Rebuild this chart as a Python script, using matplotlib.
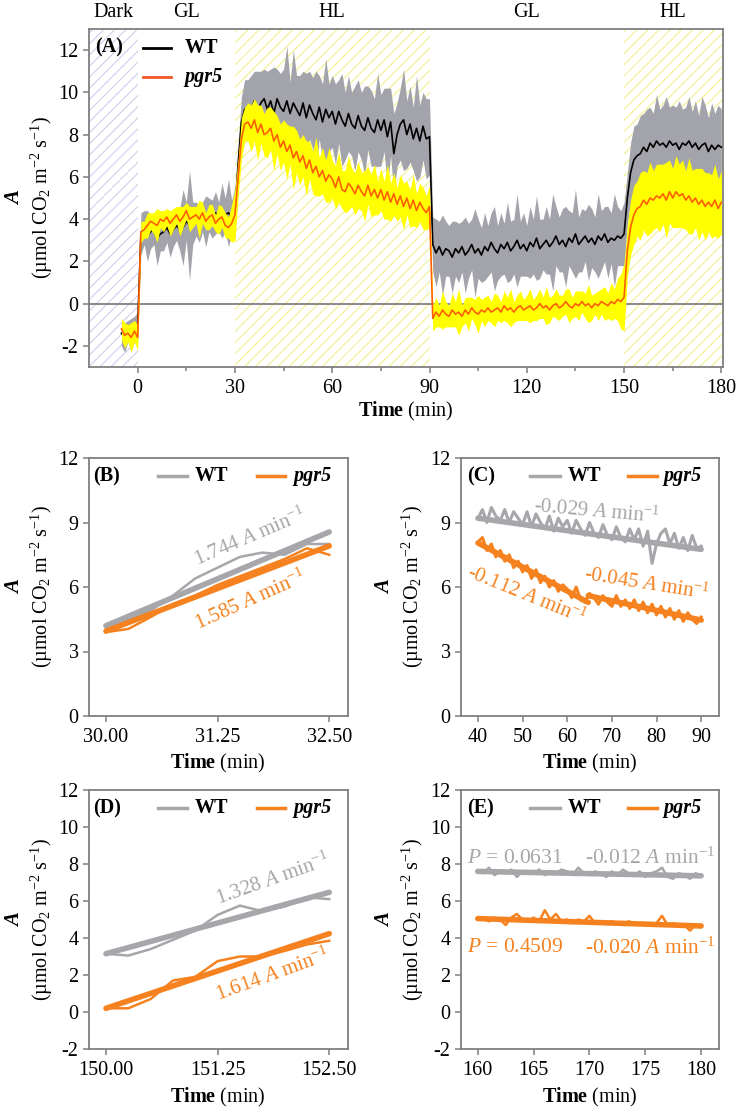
import numpy as np
import matplotlib
matplotlib.use('Agg')
import matplotlib.pyplot as plt
import matplotlib.transforms as mtransforms

plt.rcParams['font.family'] = 'Liberation Serif'
plt.rcParams['font.size'] = 14.5
plt.rcParams['axes.unicode_minus'] = False
plt.rcParams['mathtext.fontset'] = 'custom'
plt.rcParams['mathtext.rm'] = 'Liberation Serif'
plt.rcParams['mathtext.it'] = 'Liberation Serif:italic'
plt.rcParams['mathtext.bf'] = 'Liberation Serif:bold'
plt.rcParams['hatch.linewidth'] = 0.8

# ---------------- data ----------------
# panel A : mean and sd per minute, t = -5 .. 180
time_a = np.arange(-5, 181)
wt_mean = [-1.4, -1.6, -1.3, -1.5, -1.2, -1.1, 3.3, 3.6, 3.2, 3.4,
           3.5, 3.1, 3.3, 3.4, 3.6, 3.3, 3.5, 3.7, 3.5, 3.6,
           3.9, 3.7, 3.8, 4.0, 3.8, 4.1, 3.9, 4.2, 4.0, 4.3,
           4.1, 4.4, 4.2, 4.3, 4.1, 4.3, 6.6, 8.6, 9.2, 9.3,
           9.2, 9.6, 9.1, 9.5, 9.7, 9.2, 9.6, 9.0, 9.7, 9.3,
           9.1, 9.6, 9.0, 9.5, 9.2, 8.9, 9.5, 8.8, 9.4, 9.0,
           8.7, 9.3, 8.6, 9.2, 8.8, 9.1, 8.5, 9.1, 8.7, 8.4,
           9.0, 8.5, 8.3, 8.9, 8.4, 8.2, 8.8, 8.3, 8.1, 8.7,
           8.2, 8.7, 7.9, 8.6, 7.1, 8.0, 8.5, 8.7, 8.0, 8.5,
           7.8, 8.3, 7.7, 8.4, 7.8, 7.9, 2.8, 2.4, 2.7, 2.3,
           2.6, 2.5, 2.2, 2.6, 2.4, 2.7, 2.3, 2.5, 2.8, 2.4,
           2.6, 2.3, 2.7, 2.5, 2.9, 2.6, 2.4, 2.8, 2.6, 2.9,
           2.5, 2.7, 3.0, 2.6, 2.8, 2.5, 2.9, 2.7, 3.1, 2.6,
           2.8, 3.0, 2.7, 2.9, 3.2, 2.8, 3.0, 2.7, 3.1, 2.9,
           3.3, 2.8, 3.0, 3.2, 2.9, 3.1, 2.8, 3.2, 3.0, 3.3,
           2.9, 3.1, 3.0, 3.2, 3.1, 3.3, 5.0, 6.2, 6.8, 7.0,
           7.1, 7.4, 7.2, 7.6, 7.4, 7.7, 7.5, 7.6, 7.4, 7.7,
           7.5, 7.6, 7.3, 7.6, 7.5, 7.7, 7.4, 7.6, 7.3, 7.5,
           7.6, 7.2, 7.5, 7.3, 7.5, 7.4]
pgr5_mean = [-1.2, -1.5, -1.4, -1.6, -1.3, -1.6, 3.4, 3.5, 3.7, 3.9,
             3.8, 3.7, 4.0, 3.9, 4.1, 3.8, 4.0, 4.2, 3.9, 4.1,
             4.4, 4.0, 4.1, 4.2, 4.0, 4.3, 3.9, 4.1, 4.2, 3.8,
             4.0, 4.1, 3.7, 3.6, 3.8, 4.2, 6.0, 7.8, 8.5, 8.6,
             8.3, 8.7, 8.1, 8.5, 8.0, 8.1, 8.3, 7.7, 8.0, 7.4,
             7.7, 7.2, 7.5, 6.9, 7.2, 6.7, 7.0, 6.4, 6.8, 6.2,
             6.5, 6.0, 6.3, 5.8, 6.1, 5.9, 5.5, 6.0, 5.4, 5.3,
             5.7, 5.5, 5.2, 5.6, 5.3, 5.1, 5.6, 5.1, 5.4, 5.0,
             5.4, 4.9, 5.3, 4.8, 5.2, 4.7, 5.1, 4.6, 5.0, 4.5,
             4.9, 4.4, 4.8, 4.5, 4.3, 4.6, -0.7, -0.4, -0.6, -0.3,
             -0.5, -0.6, -0.3, -0.5, -0.4, -0.6, -0.3, -0.5, -0.2, -0.4,
             -0.5, -0.3, -0.4, -0.2, -0.4, -0.3, -0.2, -0.4, -0.1, -0.3,
             -0.2, -0.4, -0.2, -0.1, -0.3, -0.2, -0.1, -0.3, -0.2, 0.0,
             -0.2, -0.1, -0.3, -0.1, 0.0, -0.2, -0.1, 0.1, -0.1, -0.2,
             0.0, -0.1, 0.1, -0.1, 0.0, -0.2, 0.0, -0.1, 0.1, 0.0,
             -0.1, 0.1, 0.0, 0.2, 0.1, 0.3, 2.5, 3.6, 4.2, 4.5,
             4.6, 4.9, 4.7, 5.0, 4.9, 5.1, 5.0, 5.2, 4.9, 5.3,
             5.0, 5.3, 5.1, 5.2, 4.9, 5.1, 4.8, 5.0, 4.7, 4.9,
             4.6, 4.8, 4.6, 4.9, 4.5, 4.8]
wt_sd = [0.6, 0.7, 0.5, 0.8, 0.6, 0.7,
         1.0, 0.8, 1.2, 0.8, 0.7, 1.3, 0.8, 0.9, 0.7, 1.1,
         0.8, 0.7, 1.0, 1.8, 0.9, 2.6, 1.0, 0.8, 0.9, 0.7,
         1.2, 0.8, 0.9, 1.0, 0.7, 1.3, 0.8, 1.6, 0.8, 1.2,
         1.0, 1.2, 1.4, 1.3, 1.6, 1.4, 1.9, 1.5, 1.4, 1.8,
         1.5, 2.2, 1.4, 1.6, 2.0, 2.6, 1.5, 2.5, 1.6, 1.9,
         1.5, 2.1, 1.6, 1.7, 2.3, 1.5, 1.8, 2.4, 1.6, 1.7,
         1.9, 1.5, 2.2, 1.6, 1.8, 1.5, 2.0, 1.7, 1.6, 2.1,
         1.5, 1.8, 1.6, 2.2, 1.7, 1.5, 2.3, 1.6, 1.9, 1.5,
         1.7, 2.4, 1.6, 1.8, 1.5, 2.5, 1.7, 1.6, 1.9, 1.8,
         1.3, 1.6, 1.2, 1.9, 1.3, 1.2, 1.7, 1.3, 1.4, 1.2,
         1.8, 1.3, 1.2, 2.1, 1.4, 1.3, 1.6, 1.2, 1.4, 2.0,
         1.3, 1.5, 1.2, 1.9, 1.4, 1.3, 2.2, 1.3, 1.5, 1.2,
         1.7, 1.3, 2.0, 1.4, 1.2, 1.6, 1.3, 2.3, 1.4, 1.3,
         1.5, 1.9, 1.3, 1.4, 2.1, 1.3, 1.5, 1.2, 1.8, 1.4,
         1.3, 2.0, 1.4, 1.3, 1.7, 1.2, 2.2, 1.4, 1.3, 1.5,
         1.2, 1.4, 1.6, 1.5, 1.8, 1.6, 2.0, 1.7, 1.6, 2.2,
         1.7, 1.8, 2.4, 1.6, 1.9, 1.7, 2.3, 1.6, 1.8, 2.1,
         1.7, 2.0, 1.6, 2.3, 1.8, 1.6, 2.0, 1.7, 1.9, 1.8]
pgr5_sd = [0.5, 0.6, 0.4, 0.7, 0.5, 0.6,
           0.5, 0.4, 0.6, 0.4, 0.5, 0.8, 0.4, 0.5, 0.4, 0.6,
           0.5, 0.4, 0.7, 0.5, 0.4, 0.6, 0.5, 0.4, 0.9, 0.5,
           0.4, 0.6, 0.5, 0.4, 0.7, 0.5, 0.6, 0.5, 0.9, 1.2,
           0.9, 1.0, 0.8, 0.9, 1.1, 1.0, 1.3, 0.9, 1.0, 1.2,
           1.0, 1.4, 0.9, 1.1, 1.0, 1.3, 0.9, 1.5, 1.0, 1.1,
           1.0, 1.3, 0.9, 1.0, 1.4, 0.9, 1.1, 1.0, 1.3, 0.9,
           1.0, 1.2, 0.9, 1.0, 1.3, 0.9, 1.0, 1.1, 0.9, 1.2,
           0.9, 1.0, 1.2, 0.8, 1.0, 0.9, 1.3, 0.9, 1.0, 0.8,
           1.0, 1.1, 0.8, 0.9, 1.2, 0.8, 0.9, 1.0, 0.8, 1.0,
           0.6, 0.7, 0.5, 0.9, 0.6, 0.5, 0.8, 0.6, 1.1, 0.5,
           0.6, 0.8, 0.5, 0.6, 0.9, 0.5, 0.7, 0.6, 0.5, 0.8,
           0.6, 0.5, 0.7, 0.6, 0.9, 0.5, 0.6, 0.7, 0.5, 0.6,
           0.8, 0.5, 0.6, 0.7, 0.5, 0.9, 0.6, 0.5, 0.7, 0.6,
           0.5, 0.6, 0.8, 0.5, 0.6, 0.7, 0.5, 0.6, 0.9, 0.6,
           0.5, 0.7, 0.6, 0.8, 0.6, 0.9, 0.7, 1.0, 1.3, 1.6,
           1.2, 1.3, 1.4, 1.3, 1.6, 1.4, 1.5, 1.7, 1.4, 1.5,
           1.6, 1.4, 1.8, 1.5, 1.4, 1.7, 1.5, 1.6, 1.4, 1.8,
           1.5, 1.4, 1.7, 1.5, 1.6, 1.4, 1.5, 1.7, 1.4, 1.5]

# panels B and D: first 2.5 min after switching to HL (0.25 min steps)
time_b = [30.0, 30.25, 30.5, 30.75, 31.0, 31.25, 31.5, 31.75, 32.0, 32.25, 32.5]
wt_b = [4.1, 4.5, 4.9, 5.6, 6.4, 6.9, 7.4, 7.6, 7.5, 8.0, 8.0]
pgr5_b = [3.9, 4.05, 4.6, 5.2, 5.6, 6.1, 6.5, 6.9, 7.3, 7.8, 7.5]
time_d = [150.0, 150.25, 150.5, 150.75, 151.0, 151.25, 151.5, 151.75, 152.0, 152.25, 152.5]
wt_d = [3.15, 3.05, 3.4, 3.9, 4.4, 5.25, 5.75, 5.45, 5.7, 6.2, 6.1]
pgr5_d = [0.2, 0.2, 0.7, 1.7, 1.9, 2.75, 3.0, 3.0, 3.3, 3.65, 3.85]

# panel E: 160-180 min (0.5 min steps)
time_e = np.arange(160, 180.5, 0.5)
wt_e = [7.6, 7.5, 7.8, 7.4, 7.6, 7.5, 7.7, 7.3, 7.6, 7.5,
        7.5, 7.7, 7.4, 7.6, 7.5, 7.7, 7.6, 7.4, 7.8, 7.5,
        7.4, 7.6, 7.5, 7.3, 7.6, 7.4, 7.7, 7.5, 7.4, 7.6,
        7.3, 7.5, 7.6, 7.8, 7.3, 7.2, 7.5, 7.4, 7.2, 7.5, 7.4]
pgr5_e = [5.0, 5.1, 4.9, 5.1, 5.0, 4.7, 5.1, 5.3, 5.0, 4.9,
          5.1, 4.9, 5.5, 5.0, 5.3, 4.9, 5.0, 4.8, 5.0, 4.9,
          5.2, 4.8, 4.9, 4.8, 4.9, 4.8, 4.7, 4.9, 4.8, 4.7,
          4.8, 4.7, 4.8, 5.2, 4.7, 4.8, 4.6, 4.7, 4.4, 4.7, 4.6]

# linear fits: (start time, end time, start value, slope)
fit_b = {'WT': (30.0, 32.5, 4.2, 1.744), 'pgr5': (30.0, 32.5, 3.95, 1.585)}
fit_c = {'WT': [(40, 90, 9.2, -0.029)], 'pgr5': [(40, 64.7, 8.05, -0.112), (64.7, 90, 5.6, -0.045)]}
fit_d = {'WT': (150.0, 152.5, 3.15, 1.328), 'pgr5': (150.0, 152.5, 0.2, 1.614)}
fit_e = {'WT': (160, 180, 7.6, -0.012), 'pgr5': (160, 180, 5.05, -0.020)}

phases = [('Dark', -15, 0), ('GL', 0, 30), ('HL', 30, 90), ('GL', 90, 150), ('HL', 150, 180)]

# ---------------- style ----------------
GRAY = '#a6a6ab'
ORANGE = '#f5821f'
BAND_GRAY = '#a3a3ab'
SPINE = '#7f7f7f'
FS = 14.5

fig = plt.figure(figsize=(7.39, 11.09), dpi=100)


def px_axes(l, t, r, b):
    return fig.add_axes([l / 739, 1 - b / 1109, (r - l) / 739, (b - t) / 1109])


def style(ax):
    for s in ax.spines.values():
        s.set_color(SPINE)
        s.set_linewidth(1.3)
    ax.tick_params(which='major', direction='out', length=4.5, width=1.1, color=SPINE, pad=3, labelsize=FS)
    ax.tick_params(which='minor', direction='out', length=3, width=1.1, color=SPINE)
    ax.tick_params(axis='x', which='major', pad=4)


def ylab(xa, xb, yc):
    fig.text(xa / 739, 1 - yc / 1109, 'A', rotation=90, fontweight='bold', fontstyle='italic',
             ha='center', va='center', fontsize=15)
    fig.text(xb / 739, 1 - yc / 1109, r'(µmol CO$_2$ m$^{-2}$ s$^{-1}$)', rotation=90,
             ha='center', va='center', fontsize=FS)


def xlab(xc, yc):
    fig.text(xc / 739, 1 - yc / 1109, r'$\mathbf{Time}$ (min)', ha='center', va='center', fontsize=FS)


def small_legend(ax, tag, xs):
    ax.text(xs[0], 0.93, tag, transform=ax.transAxes, fontweight='bold', ha='left', va='center')
    ax.plot([xs[1], xs[2]], [0.93, 0.93], color=GRAY, lw=2.5, transform=ax.transAxes)
    ax.text(xs[3], 0.93, 'WT', transform=ax.transAxes, fontweight='bold', ha='left', va='center')
    ax.plot([xs[4], xs[5]], [0.93, 0.93], color=ORANGE, lw=2.5, transform=ax.transAxes)
    ax.text(xs[6], 0.93, 'pgr5', transform=ax.transAxes, fontweight='bold', fontstyle='italic',
            ha='left', va='center')


def draw_fit(ax, seg, color):
    t0, t1, y0, k = seg
    ax.plot([t0, t1], [y0, y0 + k * (t1 - t0)], color=color, lw=4, solid_capstyle='round', zorder=3)


# ---------------- panel A ----------------
axA = px_axes(89, 29, 723, 367)
style(axA)
wm = np.array(wt_mean)
pm = np.array(pgr5_mean)
ws = np.array(wt_sd)
ps = np.array(pgr5_sd)

axA.axvspan(-15, 0, facecolor='none', edgecolor='#cfcfee', hatch='///', lw=0, zorder=0)
axA.axvspan(30, 90, facecolor='none', edgecolor='#f3ef8f', hatch='///', lw=0, zorder=0)
axA.axvspan(150, 181, facecolor='none', edgecolor='#f3ef8f', hatch='///', lw=0, zorder=0)
axA.axhline(0, color='#7f7f7f', lw=1.3, zorder=1)

axA.fill_between(time_a, wm - ws, wm + ws, color=BAND_GRAY, lw=0, zorder=2)
axA.plot(time_a, wm, color='black', lw=1.2, zorder=3)
axA.fill_between(time_a, pm - ps, pm + ps, color='#ffff00', lw=0, zorder=4)
axA.plot(time_a, pm, color='#ff5f00', lw=1.2, zorder=5)

axA.set_xlim(-15, 180.5)
axA.set_ylim(-3, 13)
axA.set_xticks([0, 30, 60, 90, 120, 150, 180])
axA.set_xticks([15, 45, 75, 105, 135, 165], minor=True)
axA.set_yticks([-2, 0, 2, 4, 6, 8, 10, 12])

trans = mtransforms.blended_transform_factory(axA.transData, axA.transAxes)
for name, a, b in phases:
    axA.text((a + b) / 2, 1.05, name, transform=trans, ha='center', va='center', fontsize=FS)

axA.text(0.01, 0.944, '(A)', transform=axA.transAxes, fontweight='bold', ha='left', va='center')
axA.plot([0.085, 0.129], [0.944, 0.944], color='black', lw=2, transform=axA.transAxes)
axA.text(0.151, 0.944, 'WT', transform=axA.transAxes, fontweight='bold', ha='left', va='center')
axA.plot([0.085, 0.129], [0.858, 0.858], color='#f0582a', lw=2, transform=axA.transAxes)
axA.text(0.151, 0.858, 'pgr5', transform=axA.transAxes, fontweight='bold', fontstyle='italic',
         ha='left', va='center')
ylab(15, 42, 198)
xlab(406, 411)

# ---------------- panel B ----------------
axB = px_axes(89, 458, 348, 716)
style(axB)
axB.plot(time_b, wt_b, color=GRAY, lw=1.8, zorder=2)
axB.plot(time_b, pgr5_b, color=ORANGE, lw=1.8, zorder=2)
draw_fit(axB, fit_b['WT'], GRAY)
draw_fit(axB, fit_b['pgr5'], ORANGE)
axB.set_xlim(29.81, 32.71)
axB.set_ylim(0, 12)
axB.set_xticks([30.0, 31.25, 32.5])
axB.set_xticklabels(['30.00', '31.25', '32.50'])
axB.set_yticks([0, 3, 6, 9, 12])
axB.text(31.61, 8.3, r'1.744 $\mathit{A}$ min$^{-1}$', color=GRAY, rotation=23,
         rotation_mode='anchor', ha='center', va='center', fontsize=15)
axB.text(31.62, 5.38, r'1.585 $\mathit{A}$ min$^{-1}$', color=ORANGE, rotation=24,
         rotation_mode='anchor', ha='center', va='center', fontsize=15)
small_legend(axB, '(B)', [0.015, 0.266, 0.378, 0.409, 0.649, 0.757, 0.788])
ylab(15, 42, 587)
xlab(218, 763)

# ---------------- panel C ----------------
axC = px_axes(461, 458, 719, 716)
style(axC)
sel = (time_a >= 40) & (time_a <= 90)
axC.plot(time_a[sel], wm[sel], color=GRAY, lw=2.2, zorder=2)
axC.plot(time_a[sel], pm[sel], color=ORANGE, lw=2.2, zorder=2)
for seg in fit_c['WT']:
    draw_fit(axC, seg, GRAY)
for seg in fit_c['pgr5']:
    draw_fit(axC, seg, ORANGE)
axC.set_xlim(36.2, 94)
axC.set_ylim(0, 12)
axC.set_xticks([40, 50, 60, 70, 80, 90])
axC.set_yticks([0, 3, 6, 9, 12])
axC.text(66.7, 9.5, r'-0.029 $\mathit{A}$ min$^{-1}$', color=GRAY, rotation=-5,
         rotation_mode='anchor', ha='center', va='center', fontsize=15)
axC.text(51.0, 5.6, r'-0.112 $\mathit{A}$ min$^{-1}$', color=ORANGE, rotation=-22,
         rotation_mode='anchor', ha='center', va='center', fontsize=15)
axC.text(77.7, 6.12, r'-0.045 $\mathit{A}$ min$^{-1}$', color=ORANGE, rotation=-9,
         rotation_mode='anchor', ha='center', va='center', fontsize=15)
small_legend(axC, '(C)', [0.023, 0.267, 0.384, 0.415, 0.647, 0.760, 0.783])
ylab(385, 413, 587)
xlab(590, 763)

# ---------------- panel D ----------------
axD = px_axes(89, 790, 348, 1049)
style(axD)
axD.plot(time_d, wt_d, color=GRAY, lw=1.8, zorder=2)
axD.plot(time_d, pgr5_d, color=ORANGE, lw=1.8, zorder=2)
draw_fit(axD, fit_d['WT'], GRAY)
draw_fit(axD, fit_d['pgr5'], ORANGE)
axD.set_xlim(149.81, 152.71)
axD.set_ylim(-2, 12)
axD.set_xticks([150.0, 151.25, 152.5])
axD.set_xticklabels(['150.00', '151.25', '152.50'])
axD.set_yticks([-2, 0, 2, 4, 6, 8, 10, 12])
axD.text(151.87, 7.13, r'1.328 $\mathit{A}$ min$^{-1}$', color=GRAY, rotation=19.5,
         rotation_mode='anchor', ha='center', va='center', fontsize=15)
axD.text(151.86, 2.0, r'1.614 $\mathit{A}$ min$^{-1}$', color=ORANGE, rotation=20,
         rotation_mode='anchor', ha='center', va='center', fontsize=15)
small_legend(axD, '(D)', [0.015, 0.266, 0.378, 0.409, 0.649, 0.757, 0.788])
ylab(15, 42, 920)
xlab(218, 1097)

# ---------------- panel E ----------------
axE = px_axes(461, 790, 719, 1049)
style(axE)
axE.plot(time_e, wt_e, color=GRAY, lw=1.8, zorder=2)
axE.plot(time_e, pgr5_e, color=ORANGE, lw=1.8, zorder=2)
draw_fit(axE, fit_e['WT'], GRAY)
draw_fit(axE, fit_e['pgr5'], ORANGE)
axE.set_xlim(158.5, 181.6)
axE.set_ylim(-2, 12)
axE.set_xticks([160, 165, 170, 175, 180])
axE.set_yticks([-2, 0, 2, 4, 6, 8, 10, 12])
axE.text(159.0, 8.3, r'$\mathit{P}$ = 0.0631', color=GRAY, ha='left', va='center', fontsize=15.5)
axE.text(169.6, 8.3, r'-0.012 $\mathit{A}$ min$^{-1}$', color=GRAY, ha='left', va='center', fontsize=15.5)
axE.text(159.0, 3.46, r'$\mathit{P}$ = 0.4509', color=ORANGE, ha='left', va='center', fontsize=15.5)
axE.text(169.6, 3.46, r'-0.020 $\mathit{A}$ min$^{-1}$', color=ORANGE, ha='left', va='center', fontsize=15.5)
small_legend(axE, '(E)', [0.023, 0.267, 0.384, 0.415, 0.647, 0.760, 0.783])
ylab(385, 413, 920)
xlab(590, 1097)

fig.savefig('out.png', dpi=100)
